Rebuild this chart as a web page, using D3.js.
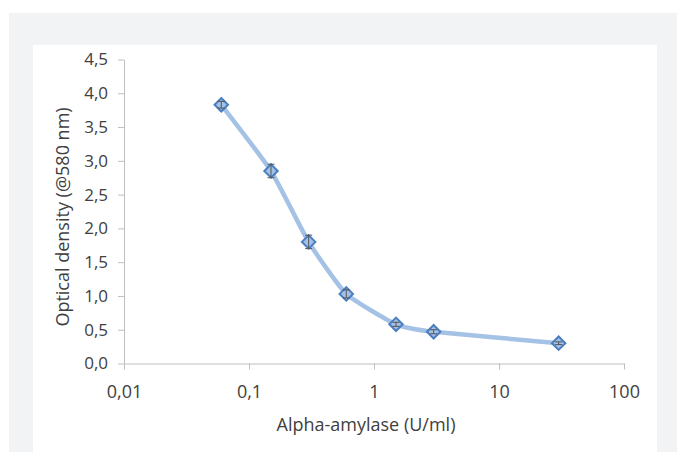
<!DOCTYPE html>
<html>
<head>
<meta charset="utf-8">
<script src="https://cdn.jsdelivr.net/npm/d3@7"></script>
<style>
  body { margin: 0; background: #fff; }
  #chart { position: relative; width: 677px; height: 452px; }
  .axis path, .axis line { stroke: #bfbfbf; }
  .axis text { font-family: "Open Sans", sans-serif; fill: #404040; }
  .x.axis text { font-size: 18px; }
  .y.axis text { font-size: 17px; }
</style>
</head>
<body>
<div id="chart"></div>
<script>
// data
var concentrations = [0.06, 0.15, 0.3, 0.6, 1.5, 3, 30];
var densities = [3.83, 2.85, 1.80, 1.03, 0.58, 0.47, 0.30];
var errors = [0.05, 0.10, 0.10, 0.06, 0.03, 0.03, 0.02];
var xTicks = [0.01, 0.1, 1, 10, 100];
var xTickLabels = ["0,01", "0,1", "1", "10", "100"];
var yTicks = [0, 0.5, 1, 1.5, 2, 2.5, 3, 3.5, 4, 4.5];

function init()
{
    var w = 677;
    var h = 452;

    var svg = d3.select("#chart")
        .append("svg")
        .attr("width", w)
        .attr("height", h);

    // gray frame and white panel
    svg.append("rect")
        .attr("x", 9).attr("y", 13)
        .attr("width", w - 9).attr("height", h - 13)
        .attr("fill", "#f2f3f5");
    svg.append("rect")
        .attr("x", 33).attr("y", 45)
        .attr("width", 624).attr("height", h - 45)
        .attr("fill", "#ffffff");

    var xScale = d3.scaleLog()
        .domain([0.01, 100])
        .range([124, 624]);

    var yScale = d3.scaleLinear()
        .domain([0, 4.5])
        .range([363.5, 59.5]);

    var xAxis = d3.axisBottom(xScale)
        .tickValues(xTicks)
        .tickSize(6)
        .tickSizeOuter(0)
        .tickPadding(16)
        .tickFormat(function(d, i) { return xTickLabels[i]; });

    var yAxis = d3.axisLeft(yScale)
        .tickValues(yTicks)
        .tickSize(6)
        .tickSizeOuter(0)
        .tickPadding(10)
        .tickFormat(function(d) { return d3.format(".1f")(d).replace(".", ","); });

    svg.append("g")
        .attr("class", "x axis")
        .attr("transform", "translate(0,363.5)")
        .call(xAxis);

    svg.append("g")
        .attr("class", "y axis")
        .attr("transform", "translate(124,0)")
        .call(yAxis);

    var points = concentrations.map(function(c, i) {
        return { x: c, y: densities[i], e: errors[i] };
    });

    // smoothed line
    var line = d3.line()
        .curve(d3.curveCardinal.tension(0.5))
        .x(function(d) { return xScale(d.x); })
        .y(function(d) { return yScale(d.y); });

    svg.append("path")
        .datum(points)
        .attr("d", line)
        .attr("fill", "none")
        .attr("stroke", "#a4c2e5")
        .attr("stroke-width", 4.5)
        .attr("stroke-linecap", "round");

    // markers
    var diamond = d3.symbol().type(d3.symbolDiamond2).size(115);
    svg.selectAll(".marker")
        .data(points)
        .enter()
        .append("path")
        .attr("class", "marker")
        .attr("d", diamond)
        .attr("transform", function(d) {
            return "translate(" + xScale(d.x) + "," + yScale(d.y) + ")";
        })
        .attr("fill", "#a3c0e6")
        .attr("stroke", "#4a7ec2")
        .attr("stroke-width", 2);

    // error bars
    var err = svg.selectAll(".err")
        .data(points)
        .enter()
        .append("g")
        .attr("class", "err")
        .attr("stroke", "#555")
        .attr("stroke-width", 1);

    err.append("line")
        .attr("x1", function(d) { return xScale(d.x); })
        .attr("x2", function(d) { return xScale(d.x); })
        .attr("y1", function(d) { return yScale(d.y - d.e); })
        .attr("y2", function(d) { return yScale(d.y + d.e); });
    err.append("line")
        .attr("x1", function(d) { return xScale(d.x) - 3.5; })
        .attr("x2", function(d) { return xScale(d.x) + 3.5; })
        .attr("y1", function(d) { return yScale(d.y + d.e); })
        .attr("y2", function(d) { return yScale(d.y + d.e); });
    err.append("line")
        .attr("x1", function(d) { return xScale(d.x) - 3.5; })
        .attr("x2", function(d) { return xScale(d.x) + 3.5; })
        .attr("y1", function(d) { return yScale(d.y - d.e); })
        .attr("y2", function(d) { return yScale(d.y - d.e); });

    // axis titles
    svg.append("text")
        .attr("x", 366)
        .attr("y", 431)
        .attr("text-anchor", "middle")
        .attr("font-family", "Open Sans, sans-serif")
        .attr("font-size", 18)
        .attr("fill", "#404040")
        .text("Alpha-amylase (U/ml)");

    svg.append("text")
        .attr("transform", "translate(69,217) rotate(-90)")
        .attr("text-anchor", "middle")
        .attr("font-family", "Open Sans, sans-serif")
        .attr("font-size", 18)
        .attr("fill", "#404040")
        .text("Optical density (@580 nm)");
}

window.onload = init;
</script>
</body>
</html>
